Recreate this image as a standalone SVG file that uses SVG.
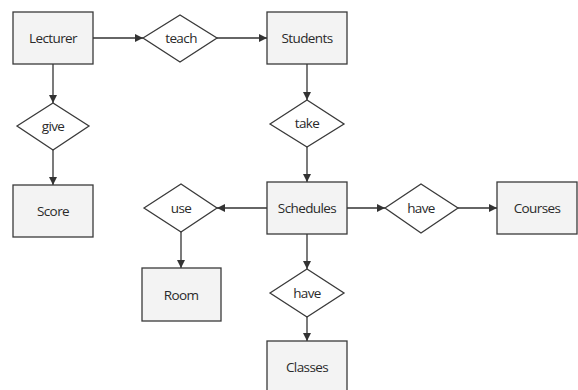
<svg xmlns="http://www.w3.org/2000/svg" width="578" height="390" viewBox="0 0 578 390">
<style>
.box{fill:#f3f3f3;stroke:#3a3a3a;stroke-width:1.3}
.dia{fill:#ffffff;stroke:#3a3a3a;stroke-width:1.3}
.lbl{font-family:"Open Sans","Liberation Sans",sans-serif;font-size:13.5px;fill:#2a2a2a;text-anchor:middle;dominant-baseline:central;letter-spacing:-0.6px}
.con{stroke:#333;stroke-width:1.3;fill:none;marker-end:url(#arr)}
</style>
<defs>
<marker id="arr" viewBox="0 0 10 10" refX="10" refY="5" markerWidth="8" markerHeight="8" markerUnits="userSpaceOnUse" orient="auto">
<path d="M0,0 L10,5 L0,10 z" fill="#333"/>
</marker>
</defs>
<rect width="578" height="390" fill="#fff"/>
<g id="connectors">
<line class="con" x1="93" y1="38" x2="143" y2="38"/>
<line class="con" x1="217" y1="38" x2="267" y2="38"/>
<line class="con" x1="53" y1="64" x2="53" y2="103"/>
<line class="con" x1="53" y1="150" x2="53" y2="185"/>
<line class="con" x1="307" y1="64" x2="307" y2="100"/>
<line class="con" x1="307" y1="147" x2="307" y2="182"/>
<line class="con" x1="267" y1="208" x2="217" y2="208"/>
<line class="con" x1="181" y1="232" x2="181" y2="268"/>
<line class="con" x1="347" y1="208" x2="385" y2="208"/>
<line class="con" x1="458" y1="208" x2="497" y2="208"/>
<line class="con" x1="307" y1="234" x2="307" y2="269"/>
<line class="con" x1="307" y1="317" x2="307" y2="341"/>
</g>
<g id="lecturer"><rect class="box" x="13" y="12" width="80" height="52"/><text class="lbl" x="53" y="38">Lecturer</text></g>
<g id="teach"><polygon class="dia" points="143,38 180,15 217,38 180,62"/><text class="lbl" x="181" y="38">teach</text></g>
<g id="students"><rect class="box" x="267" y="12" width="80" height="52"/><text class="lbl" x="307" y="38">Students</text></g>
<g id="give"><polygon class="dia" points="17,126 53,103 89,126 53,150"/><text class="lbl" x="53" y="126">give</text></g>
<g id="score"><rect class="box" x="13" y="185" width="80" height="52"/><text class="lbl" x="53" y="211">Score</text></g>
<g id="take"><polygon class="dia" points="270,124 307,100 344,124 307,147"/><text class="lbl" x="307" y="123">take</text></g>
<g id="schedules"><rect class="box" x="267" y="182" width="80" height="52"/><text class="lbl" x="307" y="208">Schedules</text></g>
<g id="use"><polygon class="dia" points="144,208 181,184 217,208 181,232"/><text class="lbl" x="181" y="208">use</text></g>
<g id="room"><rect class="box" x="142" y="268" width="79" height="53"/><text class="lbl" x="181" y="295">Room</text></g>
<g id="have1"><polygon class="dia" points="385,208 421,184 458,208 421,233"/><text class="lbl" x="421" y="208">have</text></g>
<g id="courses"><rect class="box" x="497" y="182" width="80" height="52"/><text class="lbl" x="537" y="208">Courses</text></g>
<g id="have2"><polygon class="dia" points="270,293 307,269 344,293 307,317"/><text class="lbl" x="307" y="293">have</text></g>
<g id="classes"><rect class="box" x="267" y="341" width="80" height="53"/><text class="lbl" x="307" y="367">Classes</text></g>
</svg>
